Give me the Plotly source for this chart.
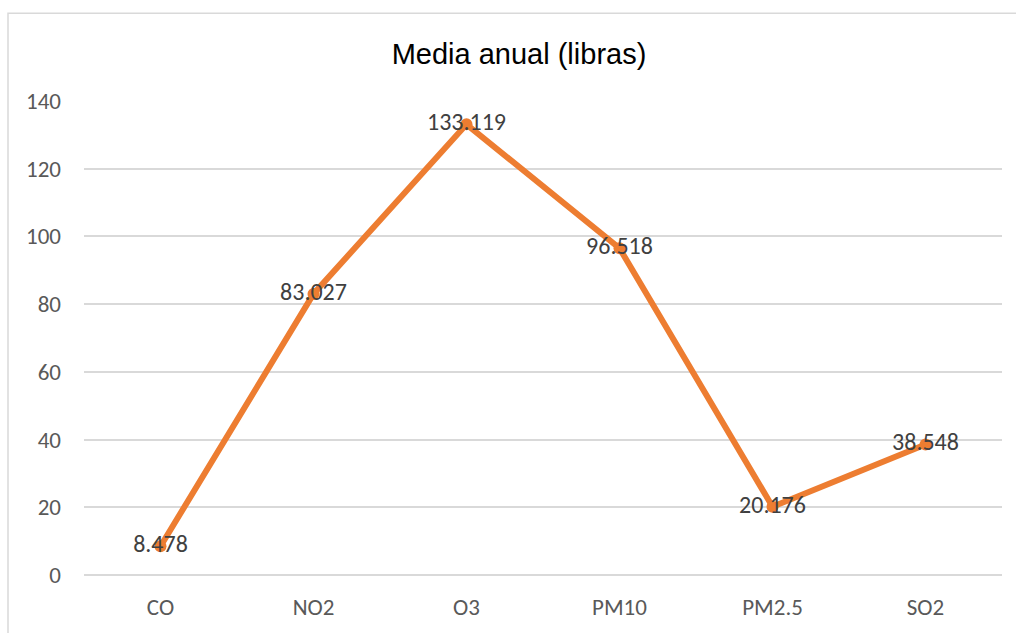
import plotly.graph_objects as go

# Annual mean per pollutant
pollutants = ["CO", "NO2", "O3", "PM10", "PM2.5", "SO2"]
annual_mean = [8.478, 83.027, 133.119, 96.518, 20.176, 38.548]
y_ticks = [0, 20, 40, 60, 80, 100, 120, 140]

W, H = 1016, 633
L, R, T, B = 84, 14, 101, 56
plot_w, plot_h = W - L - R, H - T - B

fig = go.Figure()
fig.add_trace(go.Scatter(
    x=pollutants,
    y=annual_mean,
    mode="lines+markers+text",
    line=dict(color="#ED7D31", width=6),
    marker=dict(color="#ED7D31", size=12),
    text=[f"{v:.3f}" for v in annual_mean],
    textposition="middle center",
    textfont=dict(family="Carlito, Lato, sans-serif", size=24, color="#404040"),
    cliponaxis=False,
    showlegend=False,
))

# Chart outer frame (left/top edges visible)
fig.add_shape(
    type="rect", xref="paper", yref="paper",
    x0=(8 - L) / plot_w, x1=(W + 20 - L) / plot_w,
    y0=-(B + 20) / plot_h, y1=(H - B - 13) / plot_h,
    line=dict(color="#D9D9D9", width=1.5),
    fillcolor="rgba(0,0,0,0)", layer="below",
)

fig.update_layout(
    width=W, height=H,
    margin=dict(l=L, r=R, t=T, b=B),
    paper_bgcolor="white", plot_bgcolor="white",
    title=dict(
        text="Media anual (libras)",
        x=519 / W, xanchor="center",
        y=1 - 54 / H, yanchor="middle",
        font=dict(family="Liberation Sans, Arial, sans-serif", size=29, color="#000000"),
    ),
    xaxis=dict(
        type="category", range=[-0.5, 5.5],
        showgrid=False, zeroline=False, showline=False,
        ticks="", ticklabelstandoff=16,
        tickfont=dict(family="Carlito, Lato, sans-serif", size=23, color="#595959"),
    ),
    yaxis=dict(
        range=[0, 140], tickvals=y_ticks,
        showgrid=True, gridcolor="#D9D9D9", gridwidth=1.5,
        zeroline=True, zerolinecolor="#D9D9D9", zerolinewidth=1.5,
        showline=False, ticks="", ticklabelstandoff=22,
        tickfont=dict(family="Carlito, Lato, sans-serif", size=23, color="#595959"),
    ),
)

fig.write_html("out.html")
